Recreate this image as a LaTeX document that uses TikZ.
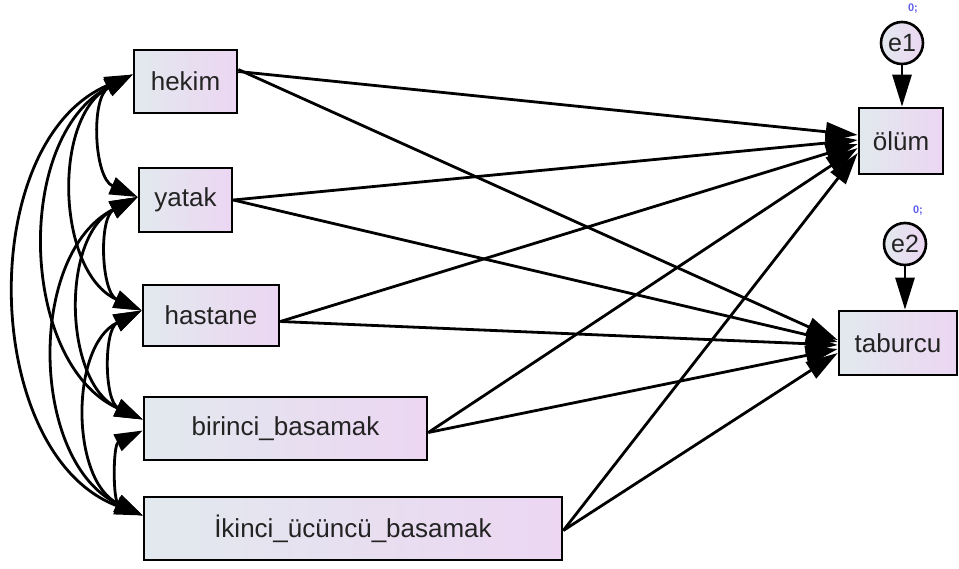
\documentclass[tikz,border=0pt]{standalone}
\usepackage{fontspec}
\setmainfont{Liberation Sans}
\usetikzlibrary{arrows.meta}
\definecolor{boxL}{RGB}{226,233,238}
\definecolor{boxR}{RGB}{236,214,242}
\definecolor{ink}{RGB}{35,35,35}
\definecolor{parm}{RGB}{95,95,235}
\tikzset{
  obsvar/.style={draw=black, line width=2.6pt, left color=boxL, right color=boxR,
    inner sep=0pt, text=ink, font=\fontsize{26}{30}\selectfont},
  errvar/.style={circle, draw=black, line width=2.6pt, left color=boxL, right color=boxR,
    minimum size=42pt, inner sep=0pt, text=ink, font=\fontsize{25}{30}\selectfont},
  regpath/.style={line width=2.8pt, -{Triangle[length=32pt,width=19pt]}},
  cov/.style={line width=2.8pt,
    {Triangle[length=28pt,width=18pt]}-{Triangle[length=28pt,width=18pt]}},
  parmlabel/.style={text=parm, font=\fontsize{11}{11}\selectfont\bfseries, inner sep=0pt}
}
\begin{document}
\begin{tikzpicture}[x=1pt,y=-1pt]
\useasboundingbox (0,0) rectangle (959,568);

% exogenous observed variables
\node[obsvar, minimum width=103pt, minimum height=63pt] (hekim)   at (185.5,81.5) {hekim};
\node[obsvar, minimum width=93pt,  minimum height=64pt] (yatak)   at (185.5,200)  {yatak};
\node[obsvar, minimum width=136pt, minimum height=61pt] (hastane) at (211,315.5)  {hastane};
\node[obsvar, minimum width=283pt, minimum height=63pt] (birinci) at (285.5,428.5) {birinci\_basamak};
\node[obsvar, minimum width=418pt, minimum height=63pt] (ikinci)  at (353,528.5)  {İkinci\_ücüncü\_basamak};

% endogenous variables and their errors
\node[obsvar, minimum width=84pt,  minimum height=66pt] (olum)    at (901,141)    {ölüm};
\node[obsvar, minimum width=118pt, minimum height=64pt] (taburcu) at (898,343)    {taburcu};
\node[errvar] (e1) at (902,43)  {e1};
\node[errvar] (e2) at (905,244) {e2};
\node[parmlabel] (e1v) at (913,9)   {0;};
\node[parmlabel] (e2v) at (918,211) {0;};

% error terms
\draw[regpath] (e1.south) -- (e1.south |- olum.north);
\draw[regpath] (e2.south) -- (e2.south |- taburcu.north);

% regression paths to ölüm
\draw[regpath] ([yshift=10pt]hekim.east)   -- ([yshift=6pt]olum.west);
\draw[regpath] (yatak.east)                 -- ([yshift=1pt]olum.west);
\draw[regpath] ([yshift=-6pt]hastane.east)  -- ([yshift=-3pt]olum.west);
\draw[regpath] ([yshift=-4pt]birinci.east)  -- ([yshift=-7pt]olum.west);
\draw[regpath] ([yshift=-2pt]ikinci.east)   -- ([yshift=-12pt]olum.west);

% regression paths to taburcu
\draw[regpath] ([yshift=12pt]hekim.east)   -- ([yshift=3pt]taburcu.west);
\draw[regpath] (yatak.east)                 -- ([yshift=1pt]taburcu.west);
\draw[regpath] ([yshift=-6pt]hastane.east)  -- ([yshift=-2pt]taburcu.west);
\draw[regpath] ([yshift=-4pt]birinci.east)  -- ([yshift=-6pt]taburcu.west);
\draw[regpath] ([yshift=-2pt]ikinci.east)   -- ([yshift=-10pt]taburcu.west);

% covariance end points on the left sides
\coordinate (hk) at ([yshift=7pt]hekim.west);
\coordinate (yt) at ([yshift=3pt]yatak.west);
\coordinate (hs) at ([yshift=5pt]hastane.west);
\coordinate (bb) at ([yshift=9pt]birinci.west);
\coordinate (bl) at ([yshift=-2pt]birinci.west);
\coordinate (ik) at ([yshift=13pt]ikinci.west);

% covariances
\draw[cov] (hk) to[bend right=64] (yt);
\draw[cov] (hk) to[bend right=64] (hs);
\draw[cov] (hk) to[bend right=64] (bb);
\draw[cov] (hk) to[bend right=68] (ik);
\draw[cov] (yt) to[bend right=64] (hs);
\draw[cov] (yt) to[bend right=64] (bb);
\draw[cov] (yt) to[bend right=64] (ik);
\draw[cov] (hs) to[bend right=64] (bb);
\draw[cov] (hs) to[bend right=64] (ik);
\draw[cov] (bl) to[bend right=64] (ik);
\end{tikzpicture}
\end{document}
